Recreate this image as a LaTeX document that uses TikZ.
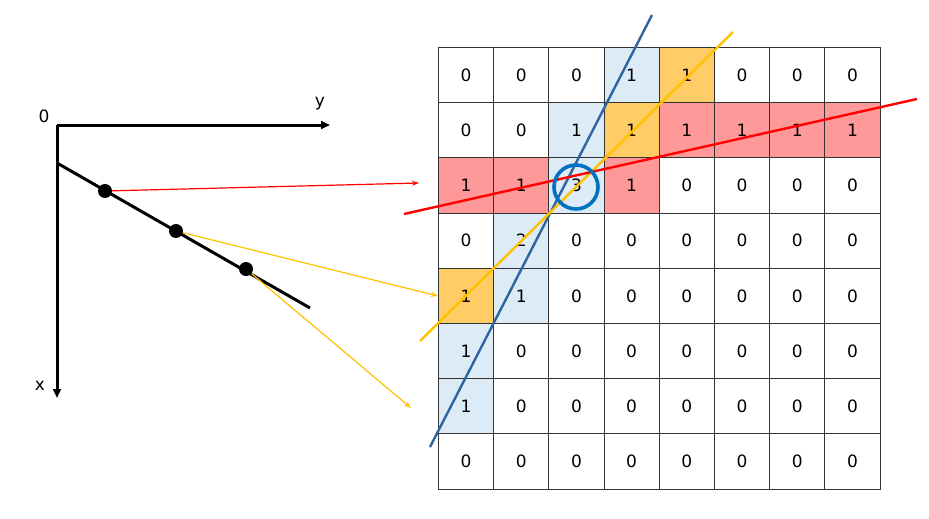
\documentclass[tikz,border=0pt]{standalone}
\usepackage{fontspec}
\setmainfont{DejaVu Sans}
\usepackage{tikz}
\usetikzlibrary{positioning,arrows.meta}
\usepackage{xcolor}
\definecolor{cellblue}{HTML}{DDEBF7}
\definecolor{cellorange}{HTML}{FFCC66}
\definecolor{cellred}{HTML}{FF9999}
\definecolor{lineblue}{HTML}{2E64A0}
\definecolor{lineorange}{HTML}{FFC000}
\definecolor{circblue}{HTML}{0070C0}

\begin{document}
\begin{tikzpicture}[x=1pt,y=-1pt,
  cell/.style={draw=black!80, line width=0.9pt, minimum size=55.2pt, inner sep=0pt, anchor=north west, font=\fontsize{17}{17}\selectfont},
  dot/.style={circle, fill=black, minimum size=14pt, inner sep=0pt},
  lbl/.style={font=\fontsize{17}{17}\selectfont}]
\useasboundingbox (0,0) rectangle (929,519);

% axes
\coordinate (O) at (57,125);
\coordinate (Y) at (330,125);
\coordinate (X) at (57,398);
\draw[line width=3pt,-{Triangle[length=9pt,width=8pt]}] (O) -- (Y);
\draw[line width=3pt,-{Triangle[length=9pt,width=8pt]}] (O) -- (X);
\node[lbl] (o) at (44,116) {0};
\node[lbl] (ylab) at (320,104) {y};
\node[lbl] (xlab) at (40,386) {x};

\coordinate (L1) at (57,163);
\coordinate (L2) at (310,308);
\draw[line width=3pt] (L1) -- (L2);
\node[dot] (p1) at (105,191) {};
\node[dot] (p2) at (176,231) {};
\node[dot] (p3) at (246,269) {};

% grid
\foreach \c/\r/\f in {3/0/cellblue,4/0/cellorange,2/1/cellblue,3/1/cellorange,4/1/cellred,5/1/cellred,6/1/cellred,7/1/cellred,
  0/2/cellred,1/2/cellred,2/2/cellblue,3/2/cellred,1/3/cellblue,0/4/cellorange,1/4/cellblue,0/5/cellblue,0/6/cellblue}
  \fill[\f] (438+55.2*\c,47+55.2*\r) rectangle ++(55.2,55.2);
\foreach \r/\vals in {0/{0,0,0,1,1,0,0,0},1/{0,0,1,1,1,1,1,1},2/{1,1,3,1,0,0,0,0},3/{0,2,0,0,0,0,0,0},
  4/{1,1,0,0,0,0,0,0},5/{1,0,0,0,0,0,0,0},6/{1,0,0,0,0,0,0,0},7/{0,0,0,0,0,0,0,0}}
  \foreach \v [count=\c from 0] in \vals
    \node[cell] (c\r\c) at (438+55.2*\c,47+55.2*\r) {\v};

% arrows to the grid
\coordinate (a1) at (419,183);
\coordinate (a2) at (438,296);
\coordinate (a3) at (411,408);
\draw[red, line width=1.2pt, -{Stealth[length=7pt,width=5pt]}] (p1) -- (a1);
\draw[lineorange, line width=1.2pt, -{Stealth[length=7pt,width=5pt]}] (p2) -- (a2);
\draw[lineorange, line width=1.2pt, -{Stealth[length=7pt,width=5pt]}] (p3) -- (a3);

% lines through the grid
\draw[lineblue, line width=2.4pt] (652,15) -- (430,447);
\draw[lineorange, line width=2.4pt] (733,32) -- (420,341);
\draw[red, line width=2.4pt] (404,214) -- (917,99);
\node[circle, draw=circblue, line width=3.6pt, minimum size=44pt, inner sep=0pt] (hit) at (576,187) {};

\end{tikzpicture}
\end{document}
